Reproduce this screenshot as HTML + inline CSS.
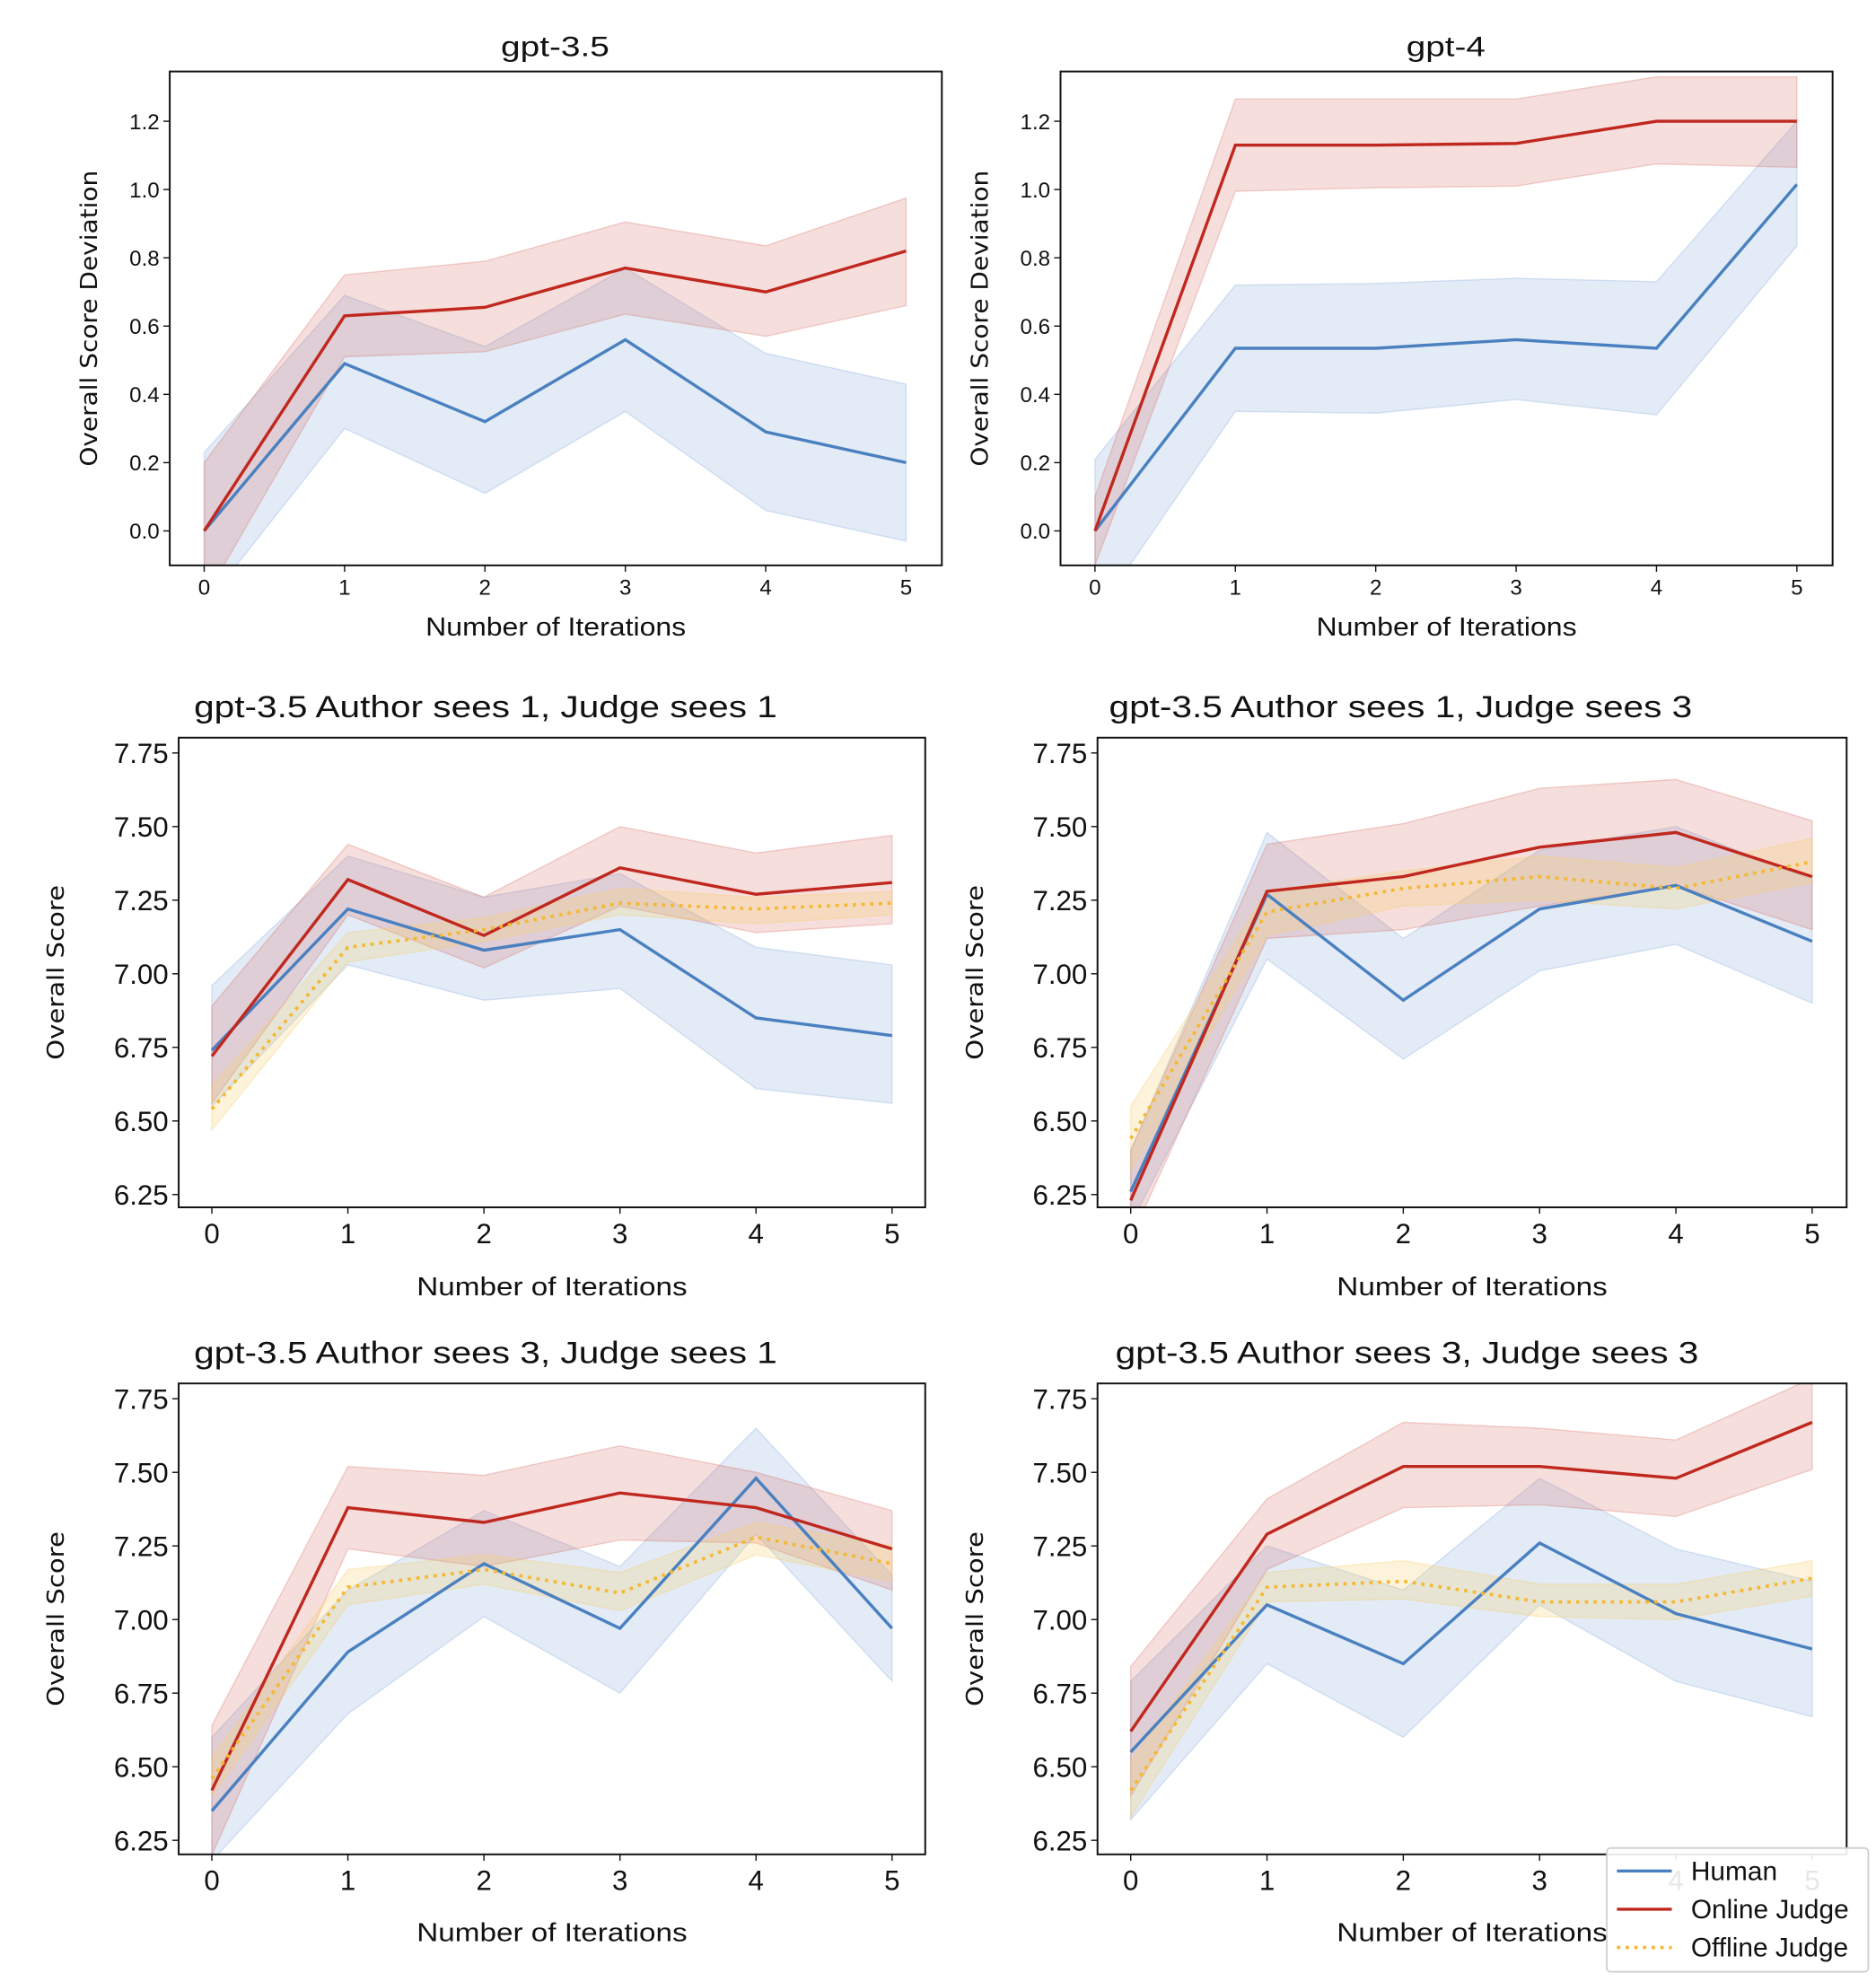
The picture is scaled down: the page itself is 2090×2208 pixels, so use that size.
<!DOCTYPE html>
<html><head><meta charset="utf-8"><style>
html,body{margin:0;padding:0;background:#fff;}
svg{display:block;}
text{font-family:"Liberation Sans",sans-serif;fill:#111;}
.yl{font-family:"DejaVu Sans","Liberation Sans",sans-serif;}
</style></head><body>
<svg id="fig" width="2090" height="2208" viewBox="0 0 1470 1553" xmlns="http://www.w3.org/2000/svg"></svg>
<script>
const iterations=[0,1,2,3,4,5];
// Panel 1: gpt-3.5 deviation
const p1Human=[0,0.49,0.32,0.56,0.29,0.20];
const p1HumanLo=[-0.22,0.30,0.11,0.35,0.06,-0.03];
const p1HumanHi=[0.23,0.69,0.54,0.77,0.52,0.43];
const p1Online=[0,0.63,0.655,0.77,0.70,0.82];
const p1OnlineLo=[-0.2,0.51,0.525,0.635,0.57,0.66];
const p1OnlineHi=[0.20,0.75,0.79,0.905,0.835,0.975];
// Panel 2: gpt-4 deviation
const p2Human=[0,0.535,0.535,0.56,0.535,1.015];
const p2HumanLo=[-0.25,0.35,0.345,0.385,0.34,0.835];
const p2HumanHi=[0.21,0.72,0.725,0.74,0.73,1.2];
const p2Online=[0,1.13,1.13,1.135,1.2,1.2];
const p2OnlineLo=[-0.1,0.995,1.005,1.01,1.075,1.065];
const p2OnlineHi=[0.1,1.265,1.265,1.265,1.33,1.33];
// Panel 3: A1 J1
const p3Human=[6.74,7.22,7.08,7.15,6.85,6.79];
const p3HumanLo=[6.55,7.03,6.91,6.95,6.61,6.56];
const p3HumanHi=[6.96,7.40,7.26,7.34,7.09,7.03];
const p3Online=[6.72,7.32,7.13,7.36,7.27,7.31];
const p3OnlineLo=[6.56,7.20,7.02,7.23,7.14,7.17];
const p3OnlineHi=[6.89,7.44,7.26,7.50,7.41,7.47];
const p3Offline=[6.54,7.09,7.15,7.24,7.22,7.24];
const p3OfflineLo=[6.47,7.04,7.11,7.20,7.17,7.20];
const p3OfflineHi=[6.62,7.14,7.19,7.29,7.26,7.28];
// Panel 4: A1 J3
const p4Human=[6.26,7.27,6.91,7.22,7.30,7.11];
const p4HumanLo=[6.15,7.05,6.71,7.01,7.10,6.90];
const p4HumanHi=[6.40,7.48,7.12,7.42,7.50,7.32];
const p4Online=[6.23,7.28,7.33,7.43,7.48,7.33];
const p4OnlineLo=[6.1,7.12,7.15,7.23,7.30,7.15];
const p4OnlineHi=[6.4,7.44,7.51,7.63,7.66,7.52];
const p4Offline=[6.44,7.21,7.29,7.33,7.29,7.38];
const p4OfflineLo=[6.33,7.13,7.23,7.25,7.22,7.31];
const p4OfflineHi=[6.55,7.28,7.35,7.40,7.36,7.46];
// Panel 5: A3 J1
const p5Human=[6.35,6.89,7.19,6.97,7.48,6.97];
const p5HumanLo=[6.18,6.68,7.01,6.75,7.29,6.79];
const p5HumanHi=[6.60,7.10,7.37,7.18,7.65,7.15];
const p5Online=[6.42,7.38,7.33,7.43,7.38,7.24];
const p5OnlineLo=[6.2,7.24,7.18,7.27,7.26,7.10];
const p5OnlineHi=[6.64,7.52,7.49,7.59,7.50,7.37];
const p5Offline=[6.46,7.11,7.17,7.09,7.28,7.19];
const p5OfflineLo=[6.40,7.05,7.12,7.03,7.22,7.13];
const p5OfflineHi=[6.53,7.17,7.22,7.16,7.33,7.25];
// Panel 6: A3 J3
const p6Human=[6.55,7.05,6.85,7.26,7.02,6.90];
const p6HumanLo=[6.32,6.85,6.60,7.05,6.79,6.67];
const p6HumanHi=[6.79,7.25,7.10,7.48,7.24,7.13];
const p6Online=[6.62,7.29,7.52,7.52,7.48,7.67];
const p6OnlineLo=[6.40,7.17,7.38,7.39,7.35,7.51];
const p6OnlineHi=[6.84,7.41,7.67,7.65,7.61,7.82];
const p6Offline=[6.42,7.11,7.13,7.06,7.06,7.14];
const p6OfflineLo=[6.33,7.06,7.07,7.01,7.00,7.08];
const p6OfflineHi=[6.52,7.16,7.20,7.12,7.12,7.20];
const devTicks=[0.0,0.2,0.4,0.6,0.8,1.0,1.2];
const devTickLabels=["0.0","0.2","0.4","0.6","0.8","1.0","1.2"];
const scoreTicks=[6.25,6.5,6.75,7.0,7.25,7.5,7.75];
const scoreTickLabels=["6.25","6.50","6.75","7.00","7.25","7.50","7.75"];

const NS="http://www.w3.org/2000/svg";
const fig=document.getElementById('fig');
const BLUE="#4a80c0",RED="#c0281f",YEL="#f5b830";
function mk(tag,attrs,parent){const e=document.createElementNS(NS,tag);for(const k in attrs)e.setAttribute(k,attrs[k]);(parent||fig).appendChild(e);return e;}

function panel(cfg,idx){
  const g=mk('g',{});
  
  
  const {x0,x1,y0,y1,xa,xb,ya,yb,va,vb}=cfg;
  const X=i=>xa+(xb-xa)*i/5;
  const Y=v=>ya+(yb-ya)*(v-va)/(vb-va);
  const cid='clip'+idx;
  const cp=mk('clipPath',{id:cid},g);mk('rect',{x:x0,y:y0,width:x1-x0,height:y1-y0},cp);
  const plot=mk('g',{'clip-path':'url(#'+cid+')'},g);
  function band(lo,hi,color,op,name){
    let d='M'+iterations.map(i=>X(i)+','+Y(hi[i])).join('L');
    d+='L'+iterations.slice().reverse().map(i=>X(i)+','+Y(lo[i])).join('L')+'Z';
    const p=mk('path',{d:d,fill:color,'fill-opacity':op,stroke:color,'stroke-opacity':op*1.3,'stroke-width':1},plot);
    
    
  }
  function line(v,color,name,dash){
    const p=mk('polyline',{points:iterations.map(i=>X(i)+','+Y(v[i])).join(' '),fill:'none',stroke:color,'stroke-width':dash?2.6:2.4,'stroke-linejoin':'miter'},plot);
    if(dash)p.setAttribute('stroke-dasharray','2.6 4.2');
    
    
  }
  band(cfg.hLo,cfg.hHi,'#8db0dc',0.25,'human-band');
  band(cfg.oLo,cfg.oHi,'#d66a60',0.22,'online-judge-band');
  if(cfg.fLo)band(cfg.fLo,cfg.fHi,'#f8cf6a',0.25,'offline-judge-band');
  line(cfg.h,BLUE,'human-line');
  line(cfg.o,RED,'online-judge-line');
  if(cfg.f)line(cfg.f,YEL,'offline-judge-line',true);
  const fr=mk('rect',{x:x0,y:y0,width:x1-x0,height:y1-y0,fill:'none',stroke:'#111','stroke-width':1.4},g);
  
  
  const fs=cfg.fs;
  iterations.forEach(i=>{
    mk('line',{x1:X(i),x2:X(i),y1:y1,y2:y1+5,stroke:'#111','stroke-width':1},g);
    const t=mk('text',{x:X(i),y:y1+fs+6,'font-size':fs,'text-anchor':'middle'},g);t.textContent=String(i);
    
    
  });
  cfg.ticks.forEach((v,k)=>{
    mk('line',{x1:x0-5,x2:x0,y1:Y(v),y2:Y(v),stroke:'#111','stroke-width':1},g);
    const t=mk('text',{x:x0-8,y:Y(v)+fs*0.36,'font-size':fs,'text-anchor':'end'},g);t.textContent=cfg.tickLabels[k];
    
    
  });
  const xl=mk('text',{x:(x0+x1)/2,y:cfg.xlY,'font-size':cfg.lfs,'text-anchor':'middle',textLength:cfg.xlW,lengthAdjust:'spacingAndGlyphs'},g);xl.textContent='Number of Iterations';
  
  
  const yl=mk('text',{x:0,y:0,'font-size':cfg.yfs,'text-anchor':'middle',class:'yl',textLength:cfg.ylW,lengthAdjust:'spacingAndGlyphs',transform:'translate('+cfg.ylX+','+((y0+y1)/2)+') rotate(-90)'},g);yl.textContent=cfg.ylabel;
  
  
  const ti=mk('text',{x:cfg.tX,y:cfg.tY,'font-size':cfg.tfs,'text-anchor':cfg.tAnchor,textLength:cfg.tW,lengthAdjust:'spacingAndGlyphs'},g);ti.textContent=cfg.title;
  
  
}
const dev={va:0,vb:1.2,ya:416,yb:95,y0:56,y1:443,fs:17,lfs:20,xlW:204,yfs:18,ylW:232,xlY:498,ticks:devTicks,tickLabels:devTickLabels,ylabel:'Overall Score Deviation',tfs:22,tY:44,tAnchor:'middle'};
panel(Object.assign({},dev,{x0:133,x1:738,xa:160,xb:710,ylX:76,title:'gpt-3.5',tW:85,tX:435,h:p1Human,hLo:p1HumanLo,hHi:p1HumanHi,o:p1Online,oLo:p1OnlineLo,oHi:p1OnlineHi}),1);
panel(Object.assign({},dev,{x0:831,x1:1436,xa:858,xb:1408,ylX:774,title:'gpt-4',tW:62,tX:1133,h:p2Human,hLo:p2HumanLo,hHi:p2HumanHi,o:p2Online,oLo:p2OnlineLo,oHi:p2OnlineHi}),2);
const sc={va:6.25,vb:7.75,fs:22,lfs:20,xlW:212,yfs:18,ylW:137,ticks:scoreTicks,tickLabels:scoreTickLabels,ylabel:'Overall Score',tfs:24,tW:457,tAnchor:'start'};
panel(Object.assign({},sc,{x0:140,x1:725,xa:166,xb:699,y0:578,y1:946,ya:936,yb:590,xlY:1015,ylX:50,tX:152,tY:562,title:'gpt-3.5  Author sees 1, Judge sees 1',h:p3Human,hLo:p3HumanLo,hHi:p3HumanHi,o:p3Online,oLo:p3OnlineLo,oHi:p3OnlineHi,f:p3Offline,fLo:p3OfflineLo,fHi:p3OfflineHi}),3);
panel(Object.assign({},sc,{x0:860,x1:1447,xa:886,xb:1420,y0:578,y1:946,ya:936,yb:590,xlY:1015,ylX:770,tX:869,tY:562,title:'gpt-3.5  Author sees 1, Judge sees 3',h:p4Human,hLo:p4HumanLo,hHi:p4HumanHi,o:p4Online,oLo:p4OnlineLo,oHi:p4OnlineHi,f:p4Offline,fLo:p4OfflineLo,fHi:p4OfflineHi}),4);
panel(Object.assign({},sc,{x0:140,x1:725,xa:166,xb:699,y0:1084,y1:1453,ya:1442,yb:1096,xlY:1521,ylX:50,tX:152,tY:1068,title:'gpt-3.5  Author sees 3, Judge sees 1',h:p5Human,hLo:p5HumanLo,hHi:p5HumanHi,o:p5Online,oLo:p5OnlineLo,oHi:p5OnlineHi,f:p5Offline,fLo:p5OfflineLo,fHi:p5OfflineHi}),5);
panel(Object.assign({},sc,{x0:860,x1:1447,xa:886,xb:1420,y0:1084,y1:1453,ya:1442,yb:1096,xlY:1521,ylX:770,tX:874,tY:1068,title:'gpt-3.5  Author sees 3, Judge sees 3',h:p6Human,hLo:p6HumanLo,hHi:p6HumanHi,o:p6Online,oLo:p6OnlineLo,oHi:p6OnlineHi,f:p6Offline,fLo:p6OfflineLo,fHi:p6OfflineHi}),6);

// legend
const lg=mk('g',{});


mk('rect',{x:1259,y:1448,width:205,height:97,rx:3,fill:'#fff','fill-opacity':0.9,stroke:'#ccc','stroke-width':1.2},lg);
const legNames=['Human','Online Judge','Offline Judge'];
const legCols=[BLUE,RED,YEL];
legNames.forEach((n,k)=>{
  const yy=1466+k*30;
  const l=mk('line',{x1:1267,x2:1310,y1:yy,y2:yy,stroke:legCols[k],'stroke-width':k==2?2.6:2.4},lg);
  if(k==2)l.setAttribute('stroke-dasharray','2.6 4.2');
  const t=mk('text',{x:1325,y:yy+7,'font-size':21},lg);t.textContent=n;
  
  
});
</script>
</body></html>
